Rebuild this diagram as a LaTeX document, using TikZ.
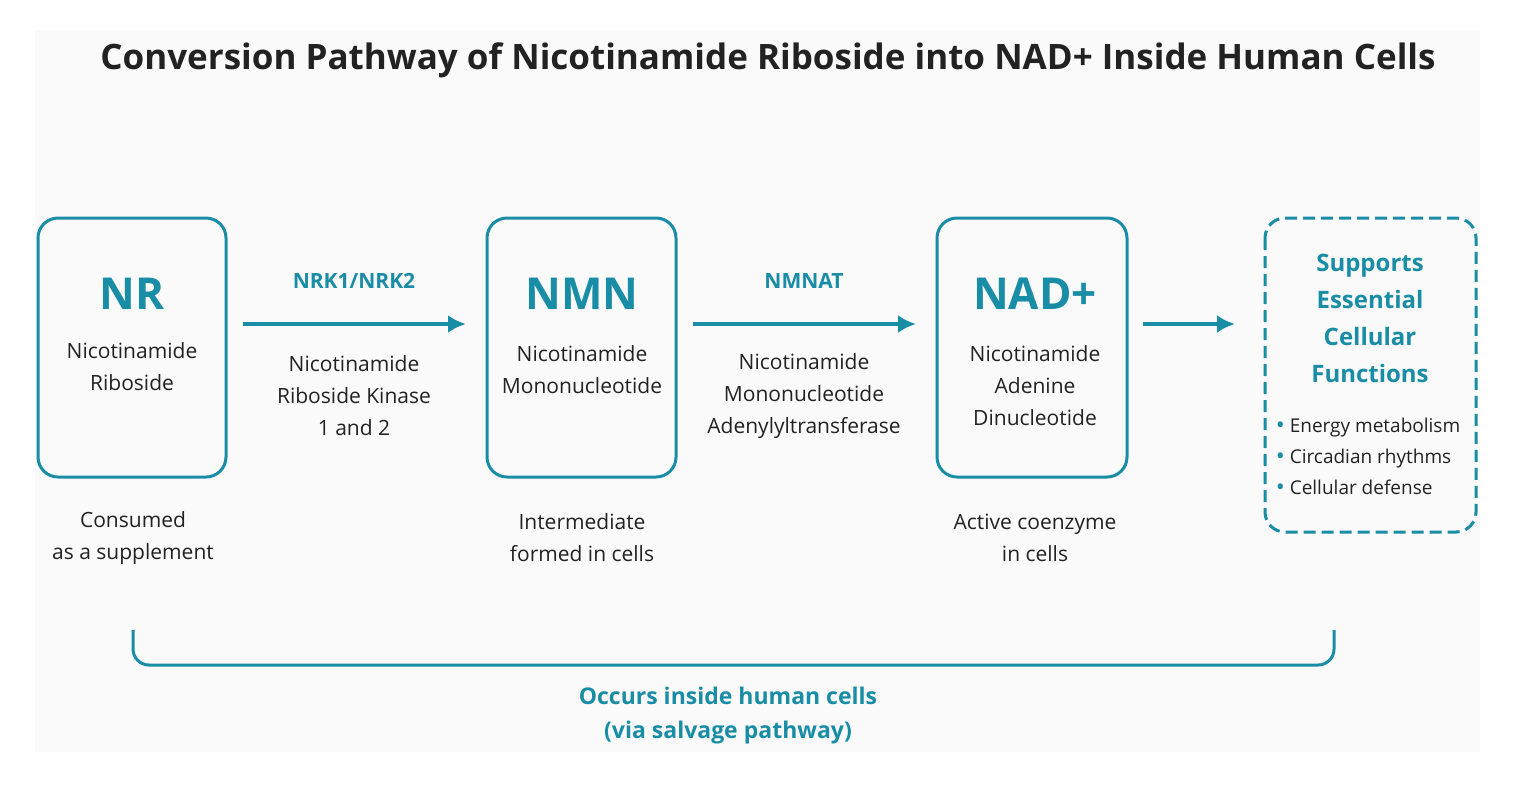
\documentclass[tikz,border=0pt]{standalone}
\usepackage{fontspec}
\usetikzlibrary{arrows.meta}
\setmainfont{Open Sans}
\begin{document}
\definecolor{teal1}{HTML}{1A8DA6}
\definecolor{ink}{HTML}{222222}
\newcommand{\tbul}{\textcolor{teal1}{\raisebox{-0.15ex}{\large\textbullet}}}
\begin{tikzpicture}[x=0.5pt,y=-0.5pt,
 box/.style={draw=teal1,line width=1.5pt,rounded corners=10pt},
 arr/.style={draw=teal1,line width=2pt,-{Latex[length=9pt,width=9pt]}},
 big/.style={text=teal1,font=\fontsize{22}{26}\selectfont\bfseries},
 body/.style={text=ink,font=\fontsize{10.5}{16}\selectfont,align=center},
 enz/.style={text=teal1,font=\fontsize{10.5}{14}\selectfont\bfseries}]
\useasboundingbox (0,0) rectangle (1514,784);
\fill[white] (0,0) rectangle (1514,784);
\fill[black!2] (35,30) rectangle (1480,752);
\node[text=ink,font=\fontsize{17.5}{20}\selectfont\bfseries] (title) at (768,60) {Conversion Pathway of Nicotinamide Riboside into NAD+ Inside Human Cells};
\draw[box] (38,218) rectangle (226,477);
\draw[box] (487,218) rectangle (676,477);
\draw[box] (937,218) rectangle (1127,477);
\draw[box,dashed,dash pattern=on 6pt off 3pt] (1265,218) rectangle (1476,532);
\node[big] (nr) at (132,294) {NR};
\node[body] (nrt) at (132,367) {Nicotinamide\\Riboside};
\node[big] (nmn) at (582,294) {NMN};
\node[body] (nmnt) at (582,370) {Nicotinamide\\Mononucleotide};
\node[big] (nad) at (1035,294) {NAD+};
\node[body] (nadt) at (1035,386) {Nicotinamide\\Adenine\\Dinucleotide};
\coordinate (a1s) at (243,324); \coordinate (a1e) at (466,324);
\coordinate (a2s) at (693,324); \coordinate (a2e) at (916,324);
\coordinate (a3s) at (1143,324); \coordinate (a3e) at (1235,324);
\draw[arr] (a1s) -- (a1e);
\draw[arr] (a2s) -- (a2e);
\draw[arr] (a3s) -- (a3e);
\node[enz] (e1) at (354,281) {NRK1/NRK2};
\node[body] (e1t) at (354,396) {Nicotinamide\\Riboside Kinase\\1 and 2};
\node[enz] (e2) at (804,281) {NMNAT};
\node[body] (e2t) at (804,396) {Nicotinamide\\Mononucleotide\\Adenylyltransferase};
\node[text=teal1,font=\fontsize{12}{18.5}\selectfont\bfseries,align=center] (sup) at (1370,318) {Supports\\Essential\\Cellular\\Functions};
\node[body,align=left,font=\fontsize{9.5}{15.5}\selectfont] (list) at (1368,457) {\tbul\ Energy metabolism\\\tbul\ Circadian rhythms\\\tbul\ Cellular defense};
\node[body] (c1) at (133,538) {Consumed\\as a supplement};
\node[body] (c2) at (582,538) {Intermediate\\formed in cells};
\node[body] (c3) at (1035,538) {Active coenzyme\\in cells};
\draw[teal1,line width=1.5pt,rounded corners=8pt] (133,630) -- (133,665) -- (1334,665) -- (1334,630);
\node[text=teal1,font=\fontsize{11.5}{17}\selectfont\bfseries,align=center] (occ) at (728,716) {Occurs inside human cells\\(via salvage pathway)};
\end{tikzpicture}
\end{document}
